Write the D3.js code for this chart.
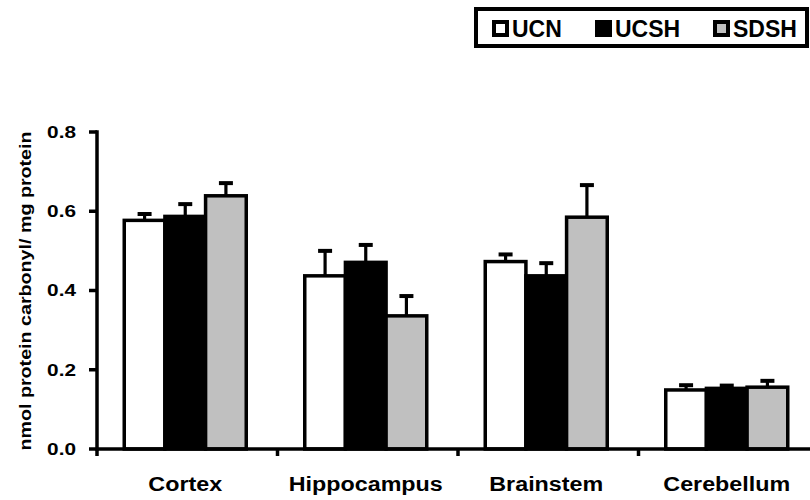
<!DOCTYPE html>
<html>
<head>
<meta charset="utf-8">
<script src="https://cdn.jsdelivr.net/npm/d3@7"></script>
<style>
  html, body { margin: 0; padding: 0; background: #fff; }
  svg text { font-family: "Liberation Sans", Arial, sans-serif; font-weight: bold; fill: #000; }
</style>
</head>
<body>
<svg id="chart" width="810" height="500"></svg>
<script>
const categories = ["Cortex", "Hippocampus", "Brainstem", "Cerebellum"];
const seriesNames = ["UCN", "UCSH", "SDSH"];
const seriesFill = ["#ffffff", "#000000", "#c0c0c0"];
const ucnValues  = [0.577, 0.437, 0.473, 0.149];
const ucshValues = [0.587, 0.471, 0.437, 0.153];
const sdshValues = [0.639, 0.336, 0.585, 0.156];
const ucnErr  = [0.016, 0.063, 0.018, 0.012];
const ucshErr = [0.031, 0.044, 0.032, 0.007];
const sdshErr = [0.032, 0.050, 0.081, 0.016];
const yTicks = [0.0, 0.2, 0.4, 0.6, 0.8];
const yTitle = "nmol protein carbonyl/ mg protein";

const values = [ucnValues, ucshValues, sdshValues];
const errs = [ucnErr, ucshErr, sdshErr];
const data = categories.map((c, i) => ({
  cat: c,
  bars: seriesNames.map((s, j) => ({ series: s, j, v: values[j][i], e: errs[j][i] }))
}));

const svg = d3.select("#chart");
const AX = 3.5;

const y = d3.scaleLinear().domain([0, 0.8]).range([449, 132]);
const x0 = d3.scaleBand().domain(categories).range([97, 819]).padding(0);
const groupW = 122;
const x1 = d3.scaleBand().domain(seriesNames).range([0, groupW]).padding(0);
const groupX = c => x0(c) + x0.bandwidth() / 2 - groupW / 2 - 2;

// Bars
const g = svg.append("g");
const groups = g.selectAll("g.grp").data(data).join("g")
  .attr("transform", d => `translate(${groupX(d.cat)},0)`);

groups.selectAll("line.err").data(d => d.bars).join("line").attr("class", "err")
  .attr("x1", b => x1(b.series) + x1.bandwidth() / 2)
  .attr("x2", b => x1(b.series) + x1.bandwidth() / 2)
  .attr("y1", b => y(b.v))
  .attr("y2", b => y(b.v + b.e))
  .attr("stroke", "#000").attr("stroke-width", 3.2);
groups.selectAll("line.cap").data(d => d.bars).join("line").attr("class", "cap")
  .attr("x1", b => x1(b.series) + x1.bandwidth() / 2 - 7)
  .attr("x2", b => x1(b.series) + x1.bandwidth() / 2 + 7)
  .attr("y1", b => y(b.v + b.e))
  .attr("y2", b => y(b.v + b.e))
  .attr("stroke", "#000").attr("stroke-width", 4);

groups.selectAll("rect").data(d => d.bars).join("rect")
  .attr("x", b => x1(b.series))
  .attr("width", x1.bandwidth())
  .attr("y", b => y(b.v))
  .attr("height", b => y(0) - y(b.v))
  .attr("fill", b => seriesFill[b.j])
  .attr("stroke", "#000").attr("stroke-width", AX);

// Y axis (drawn from the y scale)
const axX = 97;
const yAxis = svg.append("g").attr("class", "y-axis");
yAxis.append("line")
  .attr("x1", axX).attr("x2", axX)
  .attr("y1", y(0.8)).attr("y2", y(0))
  .attr("stroke", "#000").attr("stroke-width", AX).attr("stroke-linecap", "square");
yAxis.selectAll("line.yt").data(yTicks).join("line").attr("class", "yt")
  .attr("x1", axX - 8).attr("x2", axX)
  .attr("y1", d => y(d)).attr("y2", d => y(d))
  .attr("stroke", "#000").attr("stroke-width", AX);
yAxis.selectAll("text").data(yTicks).join("text")
  .attr("text-anchor", "end")
  .attr("font-size", 16)
  .attr("dy", "0.36em")
  .attr("transform", d => `translate(${axX - 21},${y(d)}) scale(1.3,1)`)
  .text(d => d3.format(".1f")(d));

// X axis
const xAxis = svg.append("g");
xAxis.append("line")
  .attr("x1", x0.range()[0]).attr("x2", 810)
  .attr("y1", y(0)).attr("y2", y(0))
  .attr("stroke", "#000").attr("stroke-width", AX);
xAxis.selectAll("line.xt").data(categories).join("line").attr("class", "xt")
  .attr("x1", d => x0(d)).attr("x2", d => x0(d))
  .attr("y1", y(0)).attr("y2", y(0) + 7)
  .attr("stroke", "#000").attr("stroke-width", AX);
xAxis.selectAll("text").data(categories).join("text")
  .attr("text-anchor", "middle")
  .attr("font-size", 21)
  .attr("transform", d => `translate(${x0(d) + x0.bandwidth() / 2 - 2},491) scale(1.11,1)`)
  .text(d => d);

// Y title
svg.append("text")
  .attr("text-anchor", "middle")
  .attr("font-size", 16)
  .attr("transform", `translate(31,291) rotate(-90) scale(1.23,1)`)
  .text(yTitle);

// Legend
const leg = svg.append("g");
leg.append("rect").attr("x", 476).attr("y", 9).attr("width", 331).attr("height", 37)
  .attr("fill", "#fff").attr("stroke", "#000").attr("stroke-width", 4);
const legX = [494, 597, 715];
const legItems = leg.selectAll("g.li").data(seriesNames).join("g")
  .attr("transform", (d, i) => `translate(${legX[i]},22)`);
legItems.append("rect").attr("x", 0).attr("y", 0).attr("width", 13).attr("height", 13)
  .attr("fill", (d, i) => seriesFill[i]).attr("stroke", "#000").attr("stroke-width", 4);
legItems.append("text").attr("x", 18).attr("y", 14.5).attr("font-size", 23).text(d => d);
</script>
</body>
</html>
